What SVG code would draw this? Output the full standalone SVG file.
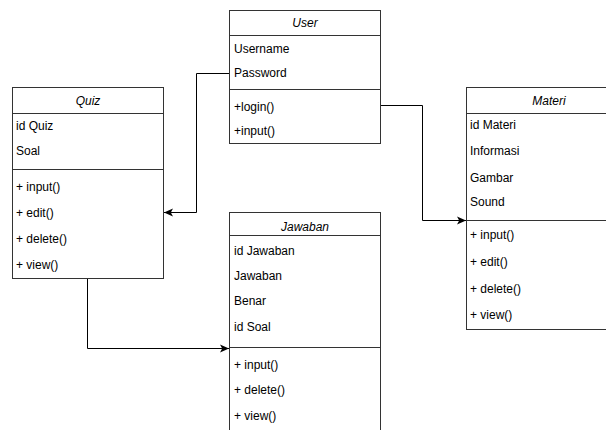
<svg xmlns="http://www.w3.org/2000/svg" width="606" height="430" viewBox="0 0 606 430">
<style>
.box{fill:#ffffff;stroke:#333333;stroke-width:1}
.sep{stroke:#333333;stroke-width:1;fill:none}
.t{font-family:"Liberation Sans",Arial,Helvetica,sans-serif;font-size:12px;fill:#000000}
.h{font-family:"Liberation Sans",Arial,Helvetica,sans-serif;font-size:12px;font-style:italic;fill:#000000;text-anchor:middle}
.conn{fill:none;stroke:#000000;stroke-width:1}
</style>
<defs>
<marker id="arr" markerUnits="userSpaceOnUse" markerWidth="10" markerHeight="10" refX="9" refY="4" orient="auto" viewBox="0 0 10 8">
<path d="M0,0 L9,4 L0,8 L2.2,4 Z" fill="#000000"/>
</marker>
</defs>
<rect width="606" height="430" fill="#ffffff"/>
<g id="connectors">
<path class="conn" d="M229,73.5 H196.5 V212.5 H164" marker-end="url(#arr)"/>
<path class="conn" d="M381,105.5 H422.5 V220.5 H466" marker-end="url(#arr)"/>
<path class="conn" d="M87.5,279 V348.5 H229" marker-end="url(#arr)"/>
</g>
<g id="user">
<rect class="box" x="229.5" y="10.5" width="151" height="133"/>
<line class="sep" x1="229.5" y1="35.5" x2="380.5" y2="35.5"/>
<line class="sep" x1="229.5" y1="89.5" x2="380.5" y2="89.5"/>
<text class="h" x="305" y="27">User</text>
<text class="t" x="234" y="53">Username</text>
<text class="t" x="234" y="77">Password</text>
<text class="t" x="234" y="111">+login()</text>
<text class="t" x="234" y="135">+input()</text>
</g>
<g id="quiz">
<rect class="box" x="12.5" y="87.5" width="151" height="191"/>
<line class="sep" x1="12.5" y1="113.5" x2="163.5" y2="113.5"/>
<line class="sep" x1="12.5" y1="169.5" x2="163.5" y2="169.5"/>
<text class="h" x="88" y="105">Quiz</text>
<text class="t" x="16" y="130">id Quiz</text>
<text class="t" x="16" y="155">Soal</text>
<text class="t" x="16" y="191">+ input()</text>
<text class="t" x="16" y="217">+ edit()</text>
<text class="t" x="16" y="243">+ delete()</text>
<text class="t" x="16" y="269">+ view()</text>
</g>
<g id="materi">
<rect class="box" x="466.5" y="87.5" width="166" height="242"/>
<line class="sep" x1="466.5" y1="113.5" x2="632.5" y2="113.5"/>
<line class="sep" x1="466.5" y1="220.5" x2="632.5" y2="220.5"/>
<text class="h" x="549" y="105">Materi</text>
<text class="t" x="470" y="129">id Materi</text>
<text class="t" x="470" y="155">Informasi</text>
<text class="t" x="470" y="182">Gambar</text>
<text class="t" x="470" y="206">Sound</text>
<text class="t" x="470" y="239">+ input()</text>
<text class="t" x="470" y="266">+ edit()</text>
<text class="t" x="470" y="293">+ delete()</text>
<text class="t" x="470" y="319">+ view()</text>
</g>
<g id="jawaban">
<rect class="box" x="229.5" y="212.5" width="151" height="230"/>
<line class="sep" x1="229.5" y1="235.5" x2="380.5" y2="235.5"/>
<line class="sep" x1="229.5" y1="347.5" x2="380.5" y2="347.5"/>
<text class="h" x="305" y="231">Jawaban</text>
<text class="t" x="234" y="255">id Jawaban</text>
<text class="t" x="234" y="280">Jawaban</text>
<text class="t" x="234" y="305">Benar</text>
<text class="t" x="234" y="331">id Soal</text>
<text class="t" x="234" y="369">+ input()</text>
<text class="t" x="234" y="394">+ delete()</text>
<text class="t" x="234" y="420">+ view()</text>
</g>
</svg>
